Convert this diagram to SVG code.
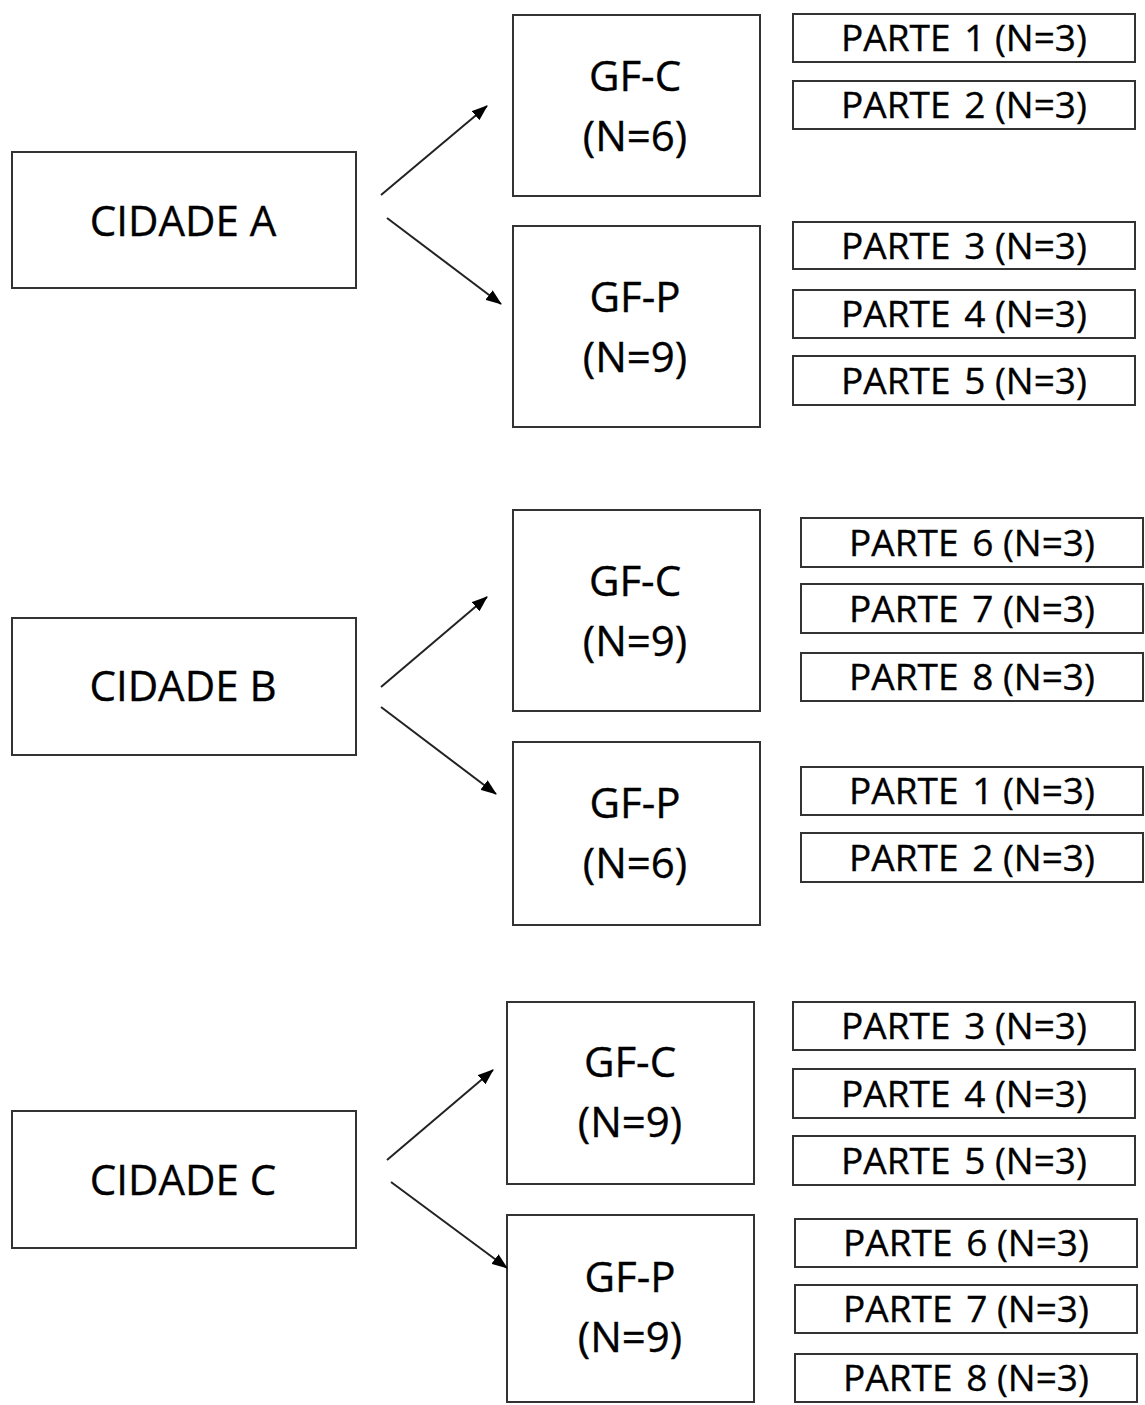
<svg xmlns="http://www.w3.org/2000/svg" width="1145" height="1405" viewBox="0 0 1145 1405">
<style>
.box{fill:#fff;stroke:#333;stroke-width:2}
.t{font-family:"Open Sans","Noto Sans","Liberation Sans",sans-serif;fill:#000;stroke:#000;stroke-width:0.35;text-anchor:middle}
.city{font-size:42px}
.gf{font-size:42px}
.pt{font-size:37px}
.conn line{stroke:#222;stroke-width:2;marker-end:url(#ah)}
</style>
<defs>
<marker id="ah" markerUnits="userSpaceOnUse" markerWidth="16" markerHeight="12" refX="15" refY="6" orient="auto">
<path d="M0,0 L16,6 L0,12 z" fill="#000"/>
</marker>
</defs>
<rect width="1145" height="1405" fill="#fff"/>

<g id="cidade-a"><rect class="box" x="12" y="152" width="344" height="136"/><text class="t city" x="183" y="236">CIDADE A</text></g>
<g id="cidade-b"><rect class="box" x="12" y="618" width="344" height="137"/><text class="t city" x="183" y="701">CIDADE B</text></g>
<g id="cidade-c"><rect class="box" x="12" y="1111" width="344" height="137"/><text class="t city" x="183" y="1195">CIDADE C</text></g>

<g id="a-gfc"><rect class="box" x="513" y="15" width="247" height="181"/><text class="t gf" x="635" y="91">GF-C</text><text class="t gf" x="635" y="151">(N=6)</text></g>
<g id="a-gfp"><rect class="box" x="513" y="226" width="247" height="201"/><text class="t gf" x="635" y="312">GF-P</text><text class="t gf" x="635" y="372">(N=9)</text></g>
<g id="b-gfc"><rect class="box" x="513" y="510" width="247" height="201"/><text class="t gf" x="635" y="596">GF-C</text><text class="t gf" x="635" y="656">(N=9)</text></g>
<g id="b-gfp"><rect class="box" x="513" y="742" width="247" height="183"/><text class="t gf" x="635" y="818">GF-P</text><text class="t gf" x="635" y="878">(N=6)</text></g>
<g id="c-gfc"><rect class="box" x="507" y="1002" width="247" height="182"/><text class="t gf" x="630" y="1077">GF-C</text><text class="t gf" x="630" y="1137">(N=9)</text></g>
<g id="c-gfp"><rect class="box" x="507" y="1215" width="247" height="187"/><text class="t gf" x="630" y="1292">GF-P</text><text class="t gf" x="630" y="1352">(N=9)</text></g>

<g id="a-p1"><rect class="box" x="793" y="14" width="342" height="48"/><text class="t pt" x="964" y="51">PARTE <tspan dx="4">1 (N=3)</tspan></text></g>
<g id="a-p2"><rect class="box" x="793" y="81" width="342" height="48"/><text class="t pt" x="964" y="118">PARTE <tspan dx="4">2 (N=3)</tspan></text></g>
<g id="a-p3"><rect class="box" x="793" y="222" width="342" height="47"/><text class="t pt" x="964" y="259">PARTE <tspan dx="4">3 (N=3)</tspan></text></g>
<g id="a-p4"><rect class="box" x="793" y="290" width="342" height="48"/><text class="t pt" x="964" y="327">PARTE <tspan dx="4">4 (N=3)</tspan></text></g>
<g id="a-p5"><rect class="box" x="793" y="356" width="342" height="49"/><text class="t pt" x="964" y="394">PARTE <tspan dx="4">5 (N=3)</tspan></text></g>

<g id="b-p6"><rect class="box" x="801" y="518" width="342" height="49"/><text class="t pt" x="972" y="556">PARTE <tspan dx="4">6 (N=3)</tspan></text></g>
<g id="b-p7"><rect class="box" x="801" y="584" width="342" height="49"/><text class="t pt" x="972" y="622">PARTE <tspan dx="4">7 (N=3)</tspan></text></g>
<g id="b-p8"><rect class="box" x="801" y="653" width="342" height="48"/><text class="t pt" x="972" y="690">PARTE <tspan dx="4">8 (N=3)</tspan></text></g>
<g id="b-p1"><rect class="box" x="801" y="767" width="342" height="48"/><text class="t pt" x="972" y="804">PARTE <tspan dx="4">1 (N=3)</tspan></text></g>
<g id="b-p2"><rect class="box" x="801" y="833" width="342" height="49"/><text class="t pt" x="972" y="871">PARTE <tspan dx="4">2 (N=3)</tspan></text></g>

<g id="c-p3"><rect class="box" x="793" y="1002" width="342" height="48"/><text class="t pt" x="964" y="1039">PARTE <tspan dx="4">3 (N=3)</tspan></text></g>
<g id="c-p4"><rect class="box" x="793" y="1069" width="342" height="49"/><text class="t pt" x="964" y="1107">PARTE <tspan dx="4">4 (N=3)</tspan></text></g>
<g id="c-p5"><rect class="box" x="793" y="1136" width="342" height="49"/><text class="t pt" x="964" y="1174">PARTE <tspan dx="4">5 (N=3)</tspan></text></g>
<g id="c-p6"><rect class="box" x="795" y="1219" width="342" height="48"/><text class="t pt" x="966" y="1256">PARTE <tspan dx="4">6 (N=3)</tspan></text></g>
<g id="c-p7"><rect class="box" x="795" y="1285" width="342" height="48"/><text class="t pt" x="966" y="1322">PARTE <tspan dx="4">7 (N=3)</tspan></text></g>
<g id="c-p8"><rect class="box" x="795" y="1354" width="342" height="48"/><text class="t pt" x="966" y="1391">PARTE <tspan dx="4">8 (N=3)</tspan></text></g>

<g id="connectors" class="conn">
<line x1="381" y1="195" x2="487" y2="106"/>
<line x1="387" y1="218" x2="501" y2="304"/>
<line x1="381" y1="687" x2="487" y2="597"/>
<line x1="381" y1="707" x2="496" y2="794"/>
<line x1="387" y1="1160" x2="493" y2="1070"/>
<line x1="391" y1="1182" x2="507" y2="1268"/>
</g>
</svg>
